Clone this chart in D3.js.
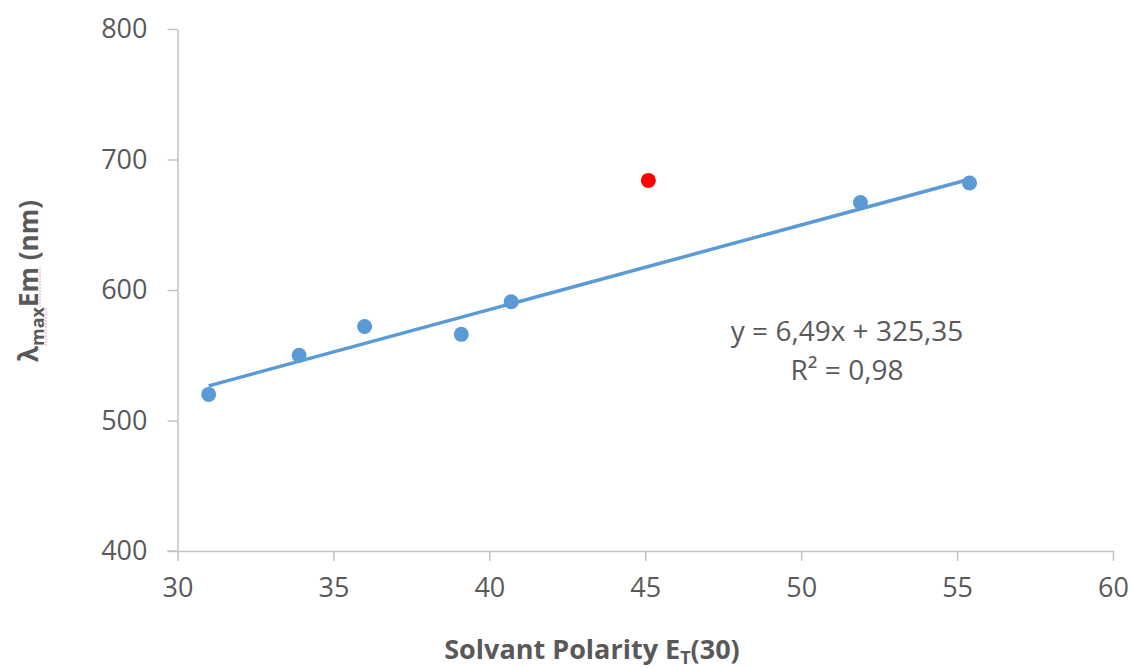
<!DOCTYPE html>
<html>
<head>
<meta charset="utf-8">
<script src="https://cdn.jsdelivr.net/npm/d3@7"></script>
<style>
  html, body { margin: 0; padding: 0; background: #fff; }
  svg { display: block; font-family: "Open Sans", "Liberation Sans", sans-serif; }
</style>
</head>
<body>
<svg id="chart" width="1134" height="668"></svg>
<script>
// Solvent polarity E_T(30) vs. emission maximum
const solventPolarity = [31.0, 33.9, 36.0, 39.1, 40.7, 51.9, 55.4];
const emissionMax     = [520, 550, 572, 566, 591, 667, 682];
// Outlier excluded from the fit
const outlierPolarity = [45.1];
const outlierEmission = [684];
// Linear fit reported for the blue series
const fitSlope = 6.49;
const fitIntercept = 325.35;
const fitLabels = ["y = 6,49x + 325,35", "R² = 0,98"];
const xTicks = [30, 35, 40, 45, 50, 55, 60];
const yTicks = [400, 500, 600, 700, 800];

const svg = d3.select("#chart");
const plot = { left: 177.5, right: 1113, top: 29, bottom: 551 };
const textColor = "#595959";
const axisColor = "#C3C3C3";
const blue = "#5B9BD5";
const red = "#FF0000";

const x = d3.scaleLinear().domain([30, 60]).range([plot.left, plot.right]);
const y = d3.scaleLinear().domain([400, 800]).range([plot.bottom, plot.top]);

// Axes
const xAxis = svg.append("g")
  .attr("transform", `translate(0,${plot.bottom})`)
  .call(d3.axisBottom(x).tickValues(xTicks).tickSize(10).tickSizeOuter(0).tickPadding(17));
const yAxis = svg.append("g")
  .attr("transform", `translate(${plot.left},0)`)
  .call(d3.axisLeft(y).tickValues(yTicks).tickSize(10).tickSizeOuter(0).tickPadding(20));

[xAxis, yAxis].forEach(g => {
  g.select(".domain").attr("stroke", axisColor).attr("stroke-width", 1.5);
  g.selectAll(".tick line").attr("stroke", axisColor).attr("stroke-width", 1.5);
  g.selectAll(".tick text")
    .attr("fill", textColor)
    .style("font-size", "27px")
    .style("font-family", "'Open Sans', sans-serif");
});
// extend x-axis baseline to the left tick
svg.append("line")
  .attr("x1", plot.left - 10).attr("x2", plot.left)
  .attr("y1", plot.bottom).attr("y2", plot.bottom)
  .attr("stroke", axisColor).attr("stroke-width", 1.5);

// Trendline across the fitted range
const xMin = d3.min(solventPolarity), xMax = d3.max(solventPolarity);
svg.append("line")
  .attr("x1", x(xMin)).attr("y1", y(fitSlope * xMin + fitIntercept))
  .attr("x2", x(xMax)).attr("y2", y(fitSlope * xMax + fitIntercept))
  .attr("stroke", blue).attr("stroke-width", 3.5);

// Points
svg.append("g").selectAll("circle")
  .data(solventPolarity.map((d, i) => [d, emissionMax[i]]))
  .join("circle")
  .attr("cx", d => x(d[0])).attr("cy", d => y(d[1]))
  .attr("r", 7.5).attr("fill", blue);

svg.append("g").selectAll("circle")
  .data(outlierPolarity.map((d, i) => [d, outlierEmission[i]]))
  .join("circle")
  .attr("cx", d => x(d[0])).attr("cy", d => y(d[1]))
  .attr("r", 7.5).attr("fill", red);

// Fit equation
svg.append("text")
  .attr("x", 847).attr("y", 341)
  .attr("text-anchor", "middle")
  .attr("fill", textColor)
  .style("font-size", "28px")
  .text(fitLabels[0]);
svg.append("text")
  .attr("x", 847).attr("y", 380)
  .attr("text-anchor", "middle")
  .attr("fill", textColor)
  .style("font-size", "28px")
  .text(fitLabels[1]);

// X axis title
const xt = svg.append("text")
  .attr("x", 592).attr("y", 659)
  .attr("text-anchor", "middle")
  .attr("fill", textColor)
  .style("font-size", "27px")
  .style("font-weight", "bold");
xt.append("tspan").text("Solvant Polarity E");
xt.append("tspan").attr("dy", 5).style("font-size", "18px").text("T");
xt.append("tspan").attr("dy", -5).text("(30)");

// Y axis title
const yg = svg.append("g").attr("transform", "translate(38,281) rotate(-90)");
const yt = yg.append("text")
  .attr("x", 0).attr("y", 0)
  .attr("text-anchor", "middle")
  .attr("fill", textColor)
  .style("font-size", "26px")
  .style("font-weight", "bold");
yt.append("tspan").text("λ");
yt.append("tspan").attr("dy", 6).style("font-size", "18px").text("max");
yt.append("tspan").attr("dy", -6).text("Em (nm)");

// spell-check style squiggle under "maxEm"
const node = yt.node();
const sub0 = node.getExtentOfChar(1), sub1 = node.getExtentOfChar(3);
const em0 = node.getExtentOfChar(4), em1 = node.getExtentOfChar(5);
yg.append("line")
  .attr("x1", sub0.x).attr("x2", sub1.x + sub1.width)
  .attr("y1", 8).attr("y2", 8)
  .attr("stroke", "#F2A0A0").attr("stroke-width", 1).attr("stroke-dasharray", "2,1");
yg.append("line")
  .attr("x1", em0.x).attr("x2", em1.x + em1.width)
  .attr("y1", 2).attr("y2", 2)
  .attr("stroke", "#F2A0A0").attr("stroke-width", 1).attr("stroke-dasharray", "2,1");
</script>
</body>
</html>
